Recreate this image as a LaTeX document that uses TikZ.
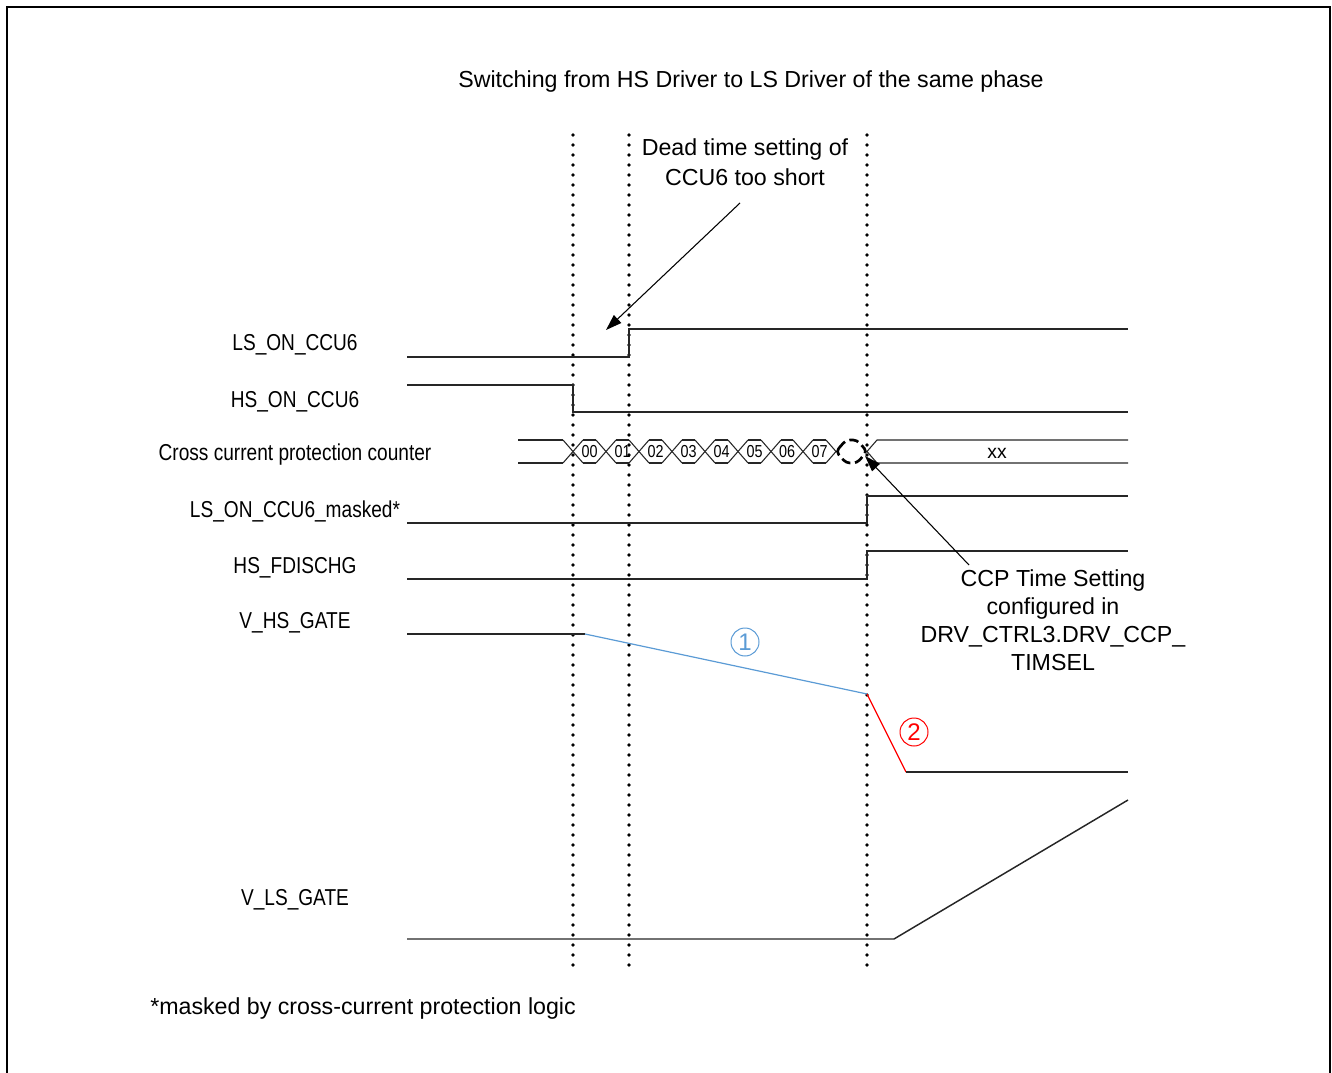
\documentclass[tikz,border=0pt]{standalone}
\usepackage{fontspec}
\setmainfont{Liberation Sans}
\newfontfamily\narrowfont[FakeStretch=0.83]{Liberation Sans}
\usetikzlibrary{arrows.meta}
\definecolor{sigblue}{RGB}{91,155,213}
\begin{document}
\begin{tikzpicture}[x=0.75pt,y=-0.75pt,
  sig/.style={line width=1.1pt, black!85},
  bus/.style={line width=0.8pt, black!85},
  dotline/.style={line width=2.9pt, dash pattern=on 0pt off 7.5pt, line cap=round},
  lbl/.style={anchor=base, inner sep=0pt, font=\narrowfont\fontsize{17.25}{20}\selectfont},
  txt/.style={anchor=base, inner sep=0pt, font=\fontsize{17.4}{21}\selectfont},
  num/.style={inner sep=0pt, font=\narrowfont\fontsize{13}{14}\selectfont},
  pointer/.style={line width=0.8pt, -{Triangle[length=12pt,width=8pt]}},
  circnum/.style={circle, draw, line width=0.75pt, minimum size=21pt, inner sep=0pt, font=\fontsize{18}{20}\selectfont},
]
\useasboundingbox (0,0) rectangle (1332,1073);
% frame
\draw[line width=1.2pt] (7,1073) -- (7,7) -- (1330,7) -- (1330,1073);

% title
\node[txt] (title) at (751,88) {Switching from HS Driver to LS Driver of the same phase};

% dotted time markers
\draw[dotline] (573,135) -- (573,967);
\draw[dotline] (629,135) -- (629,967);
\draw[dotline] (867,135) -- (867,967);

% signal labels
\node[lbl] (lLS)   at (295,351) {LS\_ON\_CCU6};
\node[lbl] (lHS)   at (295,407) {HS\_ON\_CCU6};
\node[lbl] (lCCP)  at (295,460) {Cross current protection counter};
\node[lbl] (lLSM)  at (295,517) {LS\_ON\_CCU6\_masked*};
\node[lbl] (lFD)   at (295,573) {HS\_FDISCHG};
\node[lbl] (lVHS)  at (295,628) {V\_HS\_GATE};
\node[lbl] (lVLS)  at (295,905) {V\_LS\_GATE};

% LS_ON_CCU6
\draw[sig] (407,357) -- (629,357) -- (629,329) -- (1128,329);
% HS_ON_CCU6
\draw[sig] (407,385) -- (573,385) -- (573,412) -- (1128,412);

% cross current protection counter bus
\draw[bus] (518,440) -- (563,440);
\draw[bus] (518,463) -- (563,463);
\foreach \c in {573,606,639,672,705,738,771,803}{
  \draw[bus] ({\c-10},440) -- ({\c+10},463);
  \draw[bus] ({\c-10},463) -- ({\c+10},440);
}
\foreach \a/\b in {573/606,606/639,639/672,672/705,705/738,738/771,771/803,803/836}{
  \draw[bus] ({\a+10},440) -- ({\b-10},440);
  \draw[bus] ({\a+10},463) -- ({\b-10},463);
}
\draw[bus] (826,440) -- (836,451.5) -- (826,463);
\draw[line width=2pt, dash pattern=on 7pt off 3.5pt, rounded corners=3pt]
  (836,451.5) -- (846,440) -- (857,440) -- (867,451.5) -- (857,463) -- (846,463) -- cycle;
\draw[bus] (1128,440) -- (877,440) -- (867,451.5) -- (877,463) -- (1128,463);
\foreach \m/\t in {589.5/00,622.5/01,655.5/02,688.5/03,721.5/04,754.5/05,787/06,819.5/07}{
  \node[num] at (\m,451.5) {\t};
}
\node[inner sep=0pt, anchor=base, font=\fontsize{14.5}{16}\selectfont] (xx) at (997,458) {xx};

% LS_ON_CCU6_masked*
\draw[sig] (407,523) -- (867,523) -- (867,496) -- (1128,496);
% HS_FDISCHG
\draw[sig] (407,579) -- (867,579) -- (867,551) -- (1128,551);

% V_HS_GATE
\draw[sig] (407,634) -- (585,634);
\draw[sigblue, line width=0.9pt] (585,634) -- (867,694);
\draw[red, line width=0.9pt] (867,694) -- (906,772);
\draw[sig] (906,772) -- (1128,772);
\node[circnum, sigblue] (c1) at (745,642) {1};
\node[circnum, red] (c2) at (914,732) {2};

% V_LS_GATE
\draw[sig] (407,939) -- (894,939) -- (1128,800);

% annotation: dead time
\node[txt] (dt1) at (745,156) {Dead time setting of};
\node[txt] (dt2) at (745,186) {CCU6 too short};
\coordinate (dtstart) at (740,203);
\coordinate (dttip) at (606,330);
\draw[pointer] (dtstart) -- (dttip);

% annotation: CCP time setting
\node[txt] (cc1) at (1053,586) {CCP Time Setting};
\node[txt] (cc2) at (1053,614) {configured in};
\node[txt] (cc3) at (1053,642) {DRV\_CTRL3.DRV\_CCP\_};
\node[txt] (cc4) at (1053,670) {TIMSEL};
\coordinate (ccstart) at (969,565);
\coordinate (cctip) at (865,456);
\draw[pointer] (ccstart) -- (cctip);

% footnote
\node[txt, anchor=base west] (foot) at (150,1014) {*masked by cross-current protection logic};
\end{tikzpicture}
\end{document}
